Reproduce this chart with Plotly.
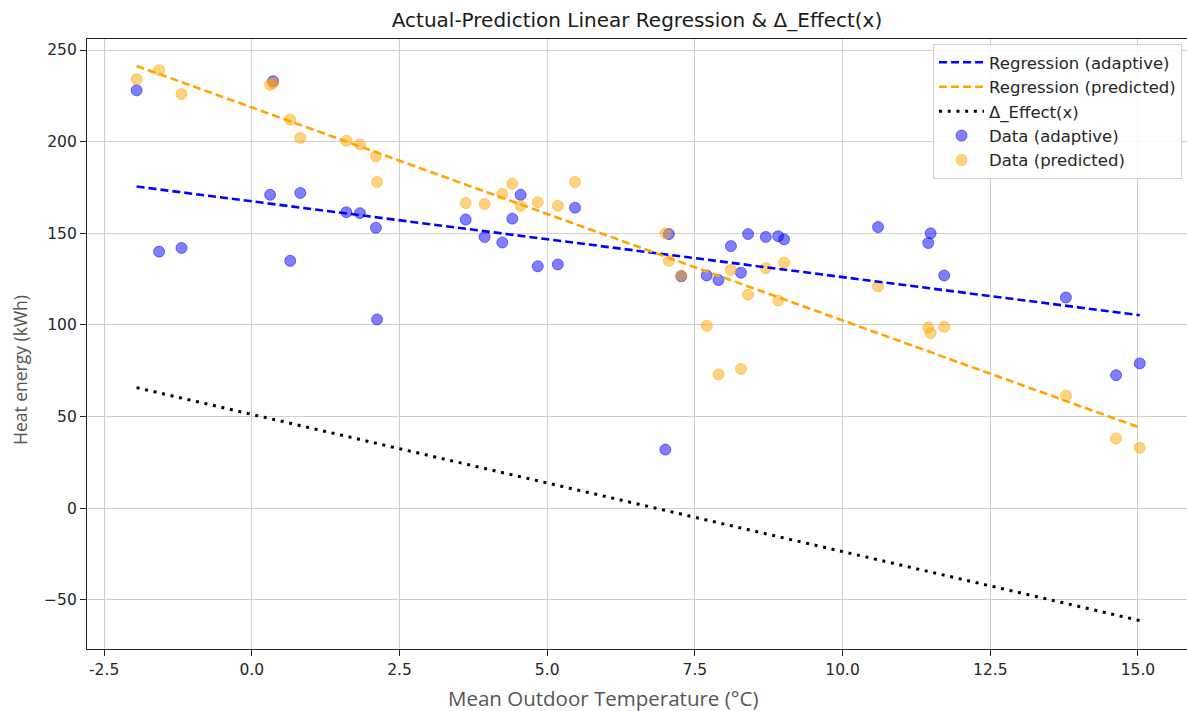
import numpy as np
import plotly.graph_objects as go

# ---- data ----
temperature = [-1.95, -1.57, -1.19, 0.31, 0.36, 0.65, 0.82, 1.60, 1.83, 2.10, 2.12,
               3.62, 3.94, 4.24, 4.41, 4.55, 4.84, 5.18, 5.47, 7.00, 7.06, 7.27,
               7.70, 7.90, 8.11, 8.28, 8.40, 8.70, 8.91, 9.01, 10.60, 11.45, 11.49,
               11.72, 13.78, 14.63, 15.03]
heat_adaptive = [228, 140, 142, 171, 233, 135, 172, 161.5, 161, 153, 103,
                 157.5, 148, 145, 158, 171, 132, 133, 164, 32, 149.6, 126.5,
                 127, 124.5, 143, 128.5, 149.6, 148, 148.4, 146.7, 153.4, 144.7, 150,
                 127, 115, 72.6, 79]
heat_predicted = [234, 239, 226, 231, 232, 212, 202, 200.5, 198.5, 192, 178,
                  166.5, 166, 171.5, 177, 165, 167, 165, 178, 150, 135, 127,
                  99.5, 73, 130, 76, 116.5, 131, 113.4, 134, 121, 98.6, 95.5,
                  99, 61.4, 38, 33]

reg_x = [-1.95, 15.03]
reg_adaptive = [175.5, 105.3]
reg_predicted = [241.3, 44.0]
delta_effect = [p - a for p, a in zip(reg_predicted, reg_adaptive)]

x_ticks = [-2.5, 0.0, 2.5, 5.0, 7.5, 10.0, 12.5, 15.0]
y_ticks = [-50, 0, 50, 100, 150, 200, 250]

TICK_FONT = dict(family="DejaVu Sans", size=15.5, color="#262626")

fig = go.Figure()

fig.add_trace(go.Scatter(
    x=temperature, y=heat_adaptive, mode="markers", name="Data (adaptive)",
    marker=dict(size=11, color="rgba(0,0,255,0.5)",
                line=dict(width=1, color="rgba(0,0,255,0.5)")),
    legendrank=4))
fig.add_trace(go.Scatter(
    x=temperature, y=heat_predicted, mode="markers", name="Data (predicted)",
    marker=dict(size=11, color="rgba(255,165,0,0.5)",
                line=dict(width=1, color="rgba(255,165,0,0.5)")),
    legendrank=5))
fig.add_trace(go.Scatter(
    x=reg_x, y=reg_adaptive, mode="lines", name="Regression (adaptive)",
    line=dict(color="blue", width=2.6, dash="8px,4px"), legendrank=1))
fig.add_trace(go.Scatter(
    x=reg_x, y=reg_predicted, mode="lines", name="Regression (predicted)",
    line=dict(color="orange", width=2.6, dash="8px,4px"), legendrank=2))
fig.add_trace(go.Scatter(
    x=reg_x, y=delta_effect, mode="lines", name="Δ_Effect(x)",
    line=dict(color="black", width=3, dash="3px,5.7px"), legendrank=3))

fig.update_layout(
    width=1187, height=711, autosize=False,
    margin=dict(l=87, r=0, t=39, b=62),
    paper_bgcolor="white", plot_bgcolor="white",
    title=dict(text="Actual-Prediction Linear Regression & Δ_Effect(x)",
               x=637 / 1187, xanchor="center", y=1 - 20 / 711, yanchor="middle",
               yref="container",
               font=dict(family="DejaVu Sans", size=20, color="#1a1a1a")),
    legend=dict(x=0.9955, xanchor="right", y=(649 - 44) / 610, yanchor="top",
                bgcolor="rgba(255,255,255,0.85)", bordercolor="#d0d0d0", borderwidth=1,
                font=dict(family="DejaVu Sans", size=16.5, color="#262626"),
                itemwidth=45, traceorder="normal"),
    showlegend=True,
)

fig.update_xaxes(
    range=[-2.79, 15.83], tickvals=x_ticks, ticktext=[f"{v:.1f}" for v in x_ticks],
    showgrid=True, gridcolor="#cfcfcf", gridwidth=1.3, zeroline=False,
    showline=True, linecolor="#222", linewidth=1.3, mirror=True,
    ticks="outside", ticklen=6, tickcolor="#222", tickwidth=1.2,
    tickfont=TICK_FONT,
)
fig.update_yaxes(
    range=[-76.8, 256.0], tickvals=y_ticks,
    showgrid=True, gridcolor="#cfcfcf", gridwidth=1.3, zeroline=False,
    showline=True, linecolor="#222", linewidth=1.3, mirror=False,
    ticks="outside", ticklen=6, tickcolor="#222", tickwidth=1.2,
    tickfont=TICK_FONT,
)

fig.add_annotation(text="Mean Outdoor Temperature (°C)", xref="paper", yref="paper",
                   x=(603 - 87) / 1100, y=(649 - 698) / 610, xanchor="center", yanchor="middle",
                   showarrow=False, font=dict(family="Open Sans", size=20.5, color="#555555"))
fig.add_annotation(text="Heat energy (kWh)", xref="paper", yref="paper",
                   x=(20 - 87) / 1100, y=(649 - 370) / 610, xanchor="center", yanchor="middle",
                   textangle=-90, showarrow=False,
                   font=dict(family="Open Sans", size=17.5, color="#555555"))

fig.write_html("out.html")
